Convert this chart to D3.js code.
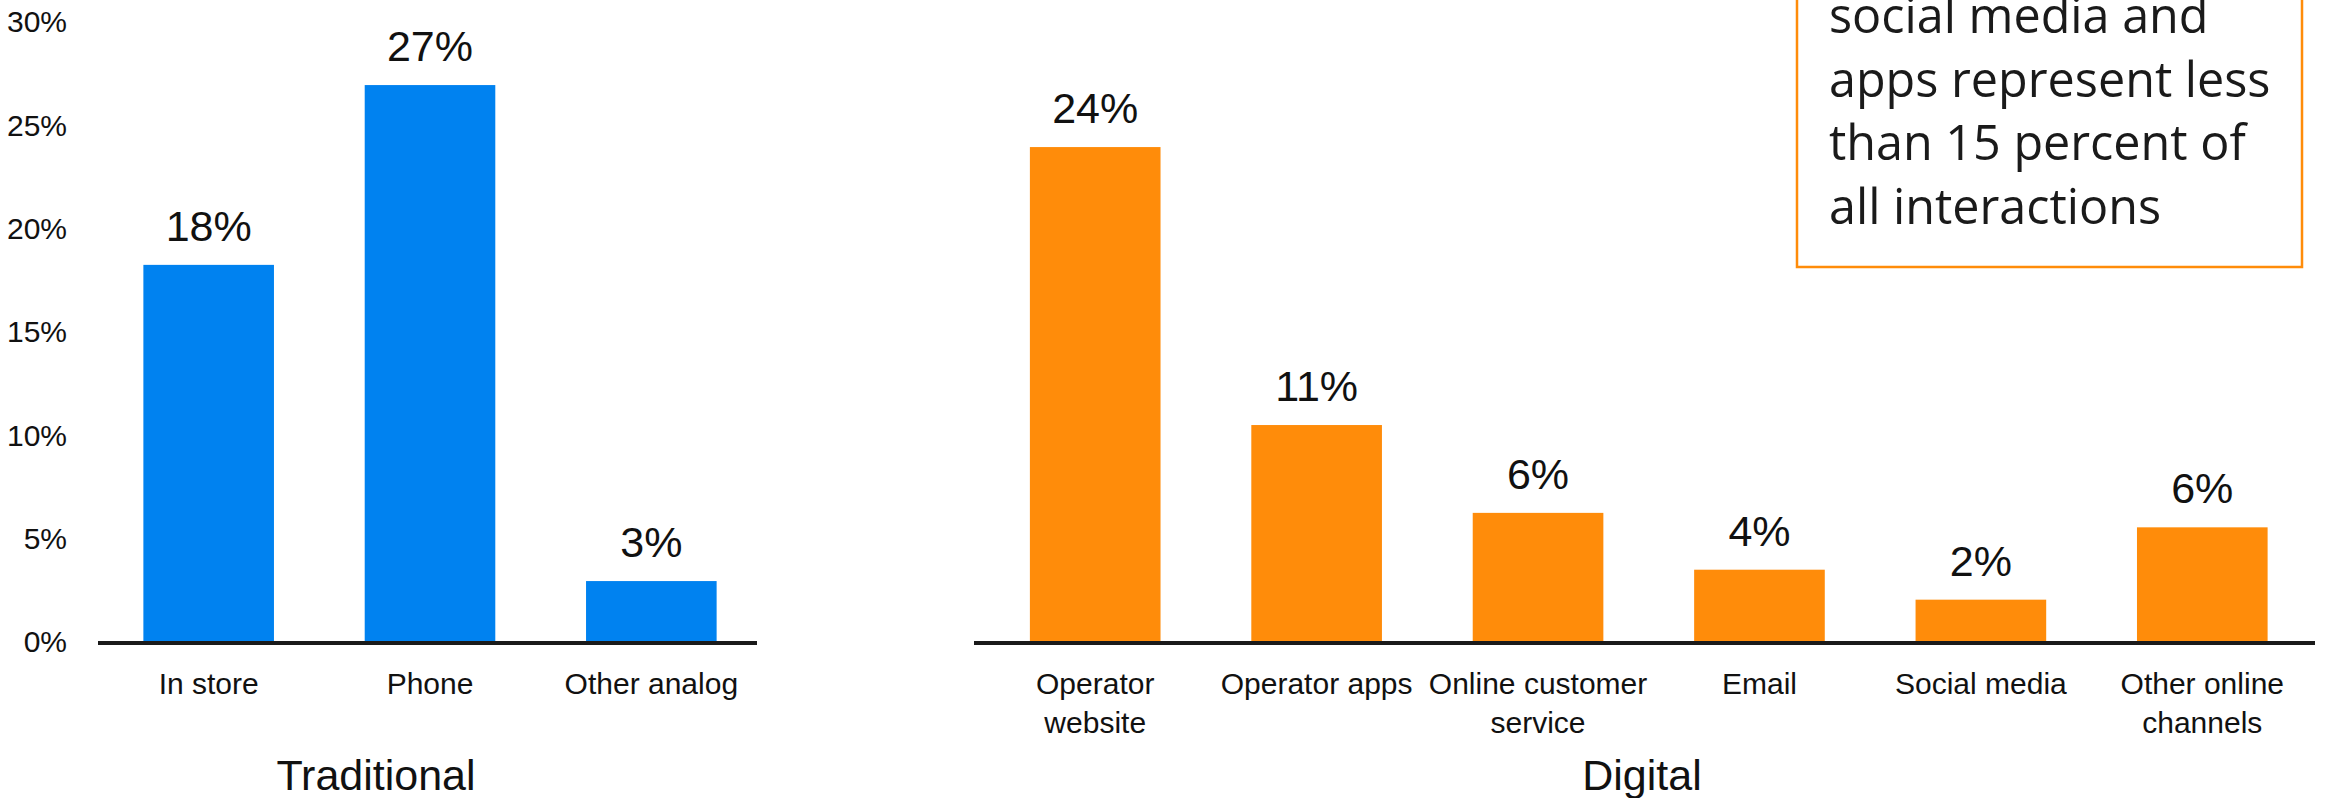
<!DOCTYPE html>
<html lang="en">
<head>
  <script src="https://d3js.org/d3.v7.min.js"></script>
  <style>
    body {
      margin: 0;
      background: #fff;
    }
    svg {
      display: block;
    }
    .chart text {
      font-family: "Liberation Sans Narrow", "Arial Narrow", "Liberation Sans", sans-serif;
      fill: #111;
    }
    .note text {
      font-family: "Open Sans", "Noto Sans", sans-serif;
      fill: #1a1a1a;
    }
  </style>
</head>
<body>
<div id="chart"></div>
<script>
  // channel shares, percent
  var tradCategories = ["In store", "Phone", "Other analog"];
  var tradValues = [18.2, 26.9, 2.9];
  var tradLabels = ["18%", "27%", "3%"];

  var digiCategories = ["Operator\nwebsite", "Operator apps", "Online customer\nservice", "Email", "Social media", "Other online\nchannels"];
  var digiValues = [23.9, 10.45, 6.2, 3.45, 2.0, 5.5];
  var digiLabels = ["24%", "11%", "6%", "4%", "2%", "6%"];

  var yTicks = [0, 5, 10, 15, 20, 25, 30];
  var groupTitles = ["Traditional", "Digital"];
  var noteLines = ["social media and", "apps represent less", "than 15 percent of", "all interactions"];

  var width = 2325, height = 798;
  var blue = "#0082f0", orange = "#ff8c0a";

  var svg = d3.select("#chart").append("svg")
          .attr("width", width)
          .attr("height", height)
          .attr("class", "chart");

  var y = d3.scaleLinear().domain([0, 30]).range([641, 21]);

  var xTrad = d3.scaleBand().domain(tradCategories).range([98, 762])
          .paddingInner(0.41).paddingOuter(0.205);
  var xDigi = d3.scaleBand().domain(digiCategories).range([984.5, 2313])
          .paddingInner(0.41).paddingOuter(0.205);

  // y axis labels only (no line, no ticks)
  var gY = svg.append("g")
          .attr("transform", "translate(67,0)")
          .call(d3.axisLeft(y).tickValues(yTicks).tickSize(0).tickPadding(0)
                  .tickFormat(function (d) { return d + "%"; }));
  gY.select(".domain").remove();
  gY.selectAll("text")
          .attr("font-size", 30)
          .attr("font-family", null)
          .attr("fill", "#111")
          .attr("dy", "0.36em");

  function panel(x, cats, vals, labels, color, lineX0, lineX1, title, titleX) {
    var g = svg.append("g");

    g.selectAll("rect")
            .data(cats)
            .enter().append("rect")
            .attr("x", function (d) { return x(d); })
            .attr("y", function (d, i) { return y(vals[i]); })
            .attr("width", x.bandwidth())
            .attr("height", function (d, i) { return y(0) - y(vals[i]); })
            .attr("fill", color);

    g.selectAll(".val")
            .data(cats)
            .enter().append("text")
            .attr("class", "val")
            .attr("x", function (d) { return x(d) + x.bandwidth() / 2; })
            .attr("y", function (d, i) { return y(vals[i]) - 24; })
            .attr("text-anchor", "middle")
            .attr("font-size", 43)
            .text(function (d, i) { return labels[i]; });

    // baseline
    g.append("line")
            .attr("x1", lineX0).attr("x2", lineX1)
            .attr("y1", y(0) + 2).attr("y2", y(0) + 2)
            .attr("stroke", "#1a1a1a")
            .attr("stroke-width", 4);

    // category labels, may wrap onto two lines
    var cat = g.selectAll(".cat")
            .data(cats)
            .enter().append("text")
            .attr("class", "cat")
            .attr("text-anchor", "middle")
            .attr("font-size", 30)
            .attr("transform", function (d) { return "translate(" + (x(d) + x.bandwidth() / 2) + ",694)"; });
    cat.selectAll("tspan")
            .data(function (d) { return d.split("\n"); })
            .enter().append("tspan")
            .attr("x", 0)
            .attr("y", function (d, i) { return i * 39; })
            .text(function (d) { return d; });

    g.append("text")
            .attr("x", titleX)
            .attr("y", 790)
            .attr("text-anchor", "middle")
            .attr("font-size", 43)
            .text(title);
  }

  panel(xTrad, tradCategories, tradValues, tradLabels, blue, 98, 757, groupTitles[0], 376);
  panel(xDigi, digiCategories, digiValues, digiLabels, orange, 974, 2315, groupTitles[1], 1642);

  // callout box, top edge runs off the picture
  var note = svg.append("g").attr("class", "note");
  note.append("rect")
          .attr("x", 1797).attr("y", -20)
          .attr("width", 505).attr("height", 287)
          .attr("fill", "none")
          .attr("stroke", orange)
          .attr("stroke-width", 2.5);
  note.selectAll("text")
          .data(noteLines)
          .enter().append("text")
          .attr("x", 1829)
          .attr("y", function (d, i) { return 33 + i * 63.7; })
          .attr("font-size", 48.5)
          .text(function (d) { return d; });
</script>
</body>
</html>
